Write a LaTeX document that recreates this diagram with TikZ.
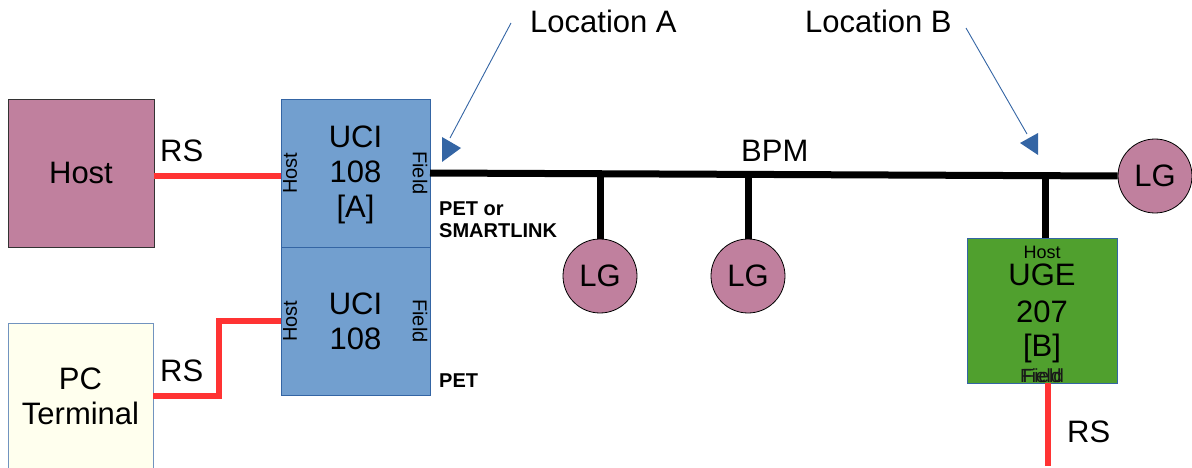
\documentclass[tikz,border=0pt]{standalone}
\usepackage{fontspec}
\setmainfont{Liberation Sans}
\definecolor{hostfill}{HTML}{C0809E}
\definecolor{ucifill}{HTML}{729FCF}
\definecolor{uciborder}{HTML}{3465A4}
\definecolor{ugefill}{HTML}{50A02E}
\definecolor{pcfill}{HTML}{FFFFEE}
\definecolor{rsred}{HTML}{FF3333}
\begin{document}
\begin{tikzpicture}[x=1pt,y=-1pt,
  big/.style={font=\fontsize{31}{35}\selectfont},
  small/.style={font=\fontsize{20}{24}\selectfont},
  bold/.style={font=\fontsize{20}{22}\selectfont\bfseries},
  box/.style={draw, line width=0.8pt, inner sep=0pt, align=center, big},
  lgnode/.style={circle, draw=black, line width=0.8pt, fill=hostfill, minimum size=74pt, inner sep=0pt, big},
  rsline/.style={rsred, line width=6pt},
  bpmline/.style={black, line width=7pt},
  callout/.style={uciborder, line width=0.9pt},
  calloutHead/.style={fill=uciborder, draw=none},
  ugetext/.style={big, anchor=base, inner sep=0pt}
]
\useasboundingbox (0,0) rectangle (1192,468);

% boxes
\node[box, draw=black!80, fill=hostfill, minimum width=146pt, minimum height=148pt] (Host) at (81,173) {Host};
\node[box, draw=uciborder!70, fill=pcfill, minimum width=145pt, minimum height=150pt] (PC) at (80.5,398) {};
\node[big, align=center] (pct) at (80.5,396) {PC\\Terminal};
\node[box, draw=uciborder, fill=ucifill, minimum width=149pt, minimum height=148pt] (UCI1) at (355.5,173) {};
\node[big, align=center] (u1t) at (355.5,175) {UCI\\108\\{}[A]};
\node[box, draw=uciborder, fill=ucifill, minimum width=149pt, minimum height=148pt] (UCI2) at (355.5,321) {};
\node[big, align=center] (u2t) at (355.5,321) {UCI\\108};
\node[box, draw=uciborder, fill=ugefill, minimum width=150pt, minimum height=145pt] (UGE) at (1042,310.5) {};

% labels inside boxes
\node[small, rotate=90] (h1) at (290,173) {Host};
\node[small, rotate=-90] (f1) at (420,173) {Field};
\node[small, rotate=90] (h2) at (290,321) {Host};
\node[small, rotate=-90] (f2) at (420,321) {Field};
\node[anchor=base, inner sep=0pt, font=\fontsize{18}{22}\selectfont] (uh) at (1042,258) {Host};
\node[ugetext] (ut1) at (1042,285) {UGE};
\node[ugetext] (ut2) at (1042,322) {207};
\node[ugetext] (ut3) at (1042,356) {[B]};
\node[inner sep=0pt, anchor=base, font=\fontsize{19}{22}\selectfont, text=black!90] (uf) at (1042,382) {\rlap{Field}\hspace{2.5pt}Field};

% LG circles
\node[lgnode] (LG1) at (600,276) {LG};
\node[lgnode] (LG2) at (748,276) {LG};
\node[lgnode] (LG3) at (1155,176) {LG};

% RS lines
\draw[rsline] ([yshift=-3pt]Host.east) -- ([yshift=-3pt]UCI1.west);
\coordinate (pcR) at (153,396);
\draw[rsline, line join=miter] (pcR) -- (219,396) |- (UCI2.west);
\coordinate (ugeB) at (1048,383);
\coordinate (ugeEnd) at (1048,466);
\draw[rsline] (ugeB) -- (ugeEnd);

% BPM bus
\coordinate (busL) at (430,173);
\draw[bpmline] (busL) -- (LG3.west);
\coordinate (t1) at (600,173);
\coordinate (t2) at (748,173);
\coordinate (t3) at (1045,173);
\draw[bpmline] (t1) -- (LG1.north);
\draw[bpmline] (t2) -- (LG2.north);
\draw[bpmline] (t3) -- (t3 |- UGE.north);

% text labels
\node[big, anchor=base west, inner sep=0pt] (rs1) at (160,162) {RS};
\node[big, anchor=base west, inner sep=0pt] (rs2) at (160,381) {RS};
\node[big, anchor=base west, inner sep=0pt] (rs3) at (1067,442) {RS};
\node[big, anchor=base west, inner sep=0pt] (bpm) at (741,161) {BPM};
\node[bold, anchor=base west, inner sep=0pt] (pet1) at (439,215) {PET or};
\node[bold, anchor=base west, inner sep=0pt] (pet2) at (439,237) {SMARTLINK};
\node[bold, anchor=base west, inner sep=0pt] (pet3) at (439,387) {PET};
\node[big, anchor=base west, inner sep=0pt] (locA) at (530,33) {Location A};
\node[big, anchor=base west, inner sep=0pt] (locB) at (805,33) {Location B};

% callout arrows
\coordinate (aS) at (511,23);
\coordinate (aE) at (450,138);
\draw[callout] (aS) -- (aE);
\fill[calloutHead] (442,137) -- (461,148) -- (442,162) -- cycle;
\coordinate (bS) at (966,28);
\coordinate (bE) at (1027,134);
\draw[callout] (bS) -- (bE);
\fill[calloutHead] (1020,143) -- (1038,133) -- (1038,155) -- cycle;
\end{tikzpicture}
\end{document}
